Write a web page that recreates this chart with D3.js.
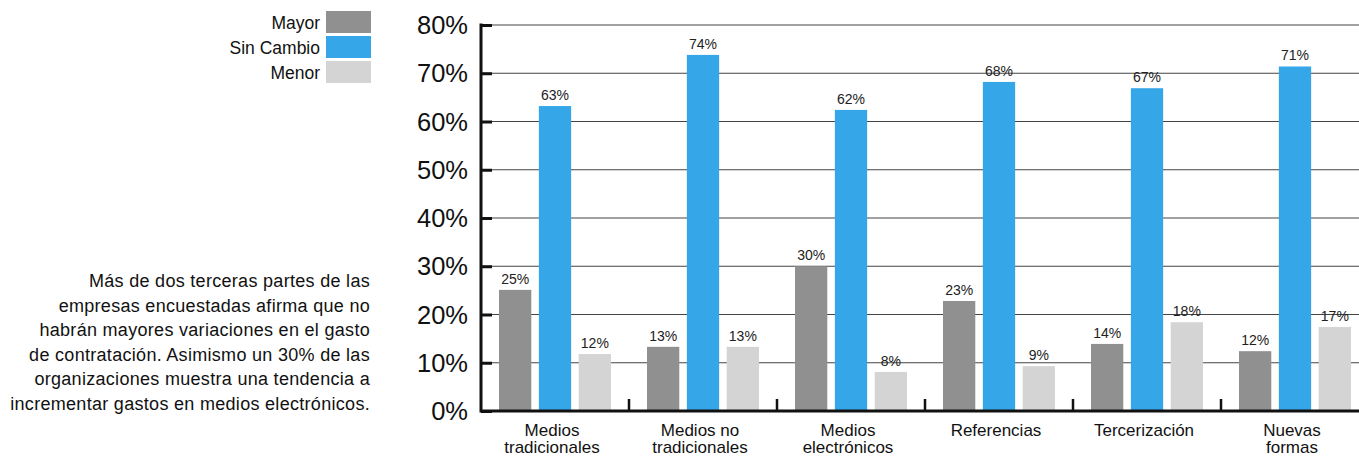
<!DOCTYPE html>
<html><head><meta charset="utf-8">
<script src="https://cdn.jsdelivr.net/npm/d3@7/dist/d3.min.js"></script>
<style>body{margin:0;background:#fff;}svg{display:block;}</style>
</head><body>
<svg id="c" width="1359" height="458"></svg>
<script>
const categories = [["Medios","tradicionales"],["Medios no","tradicionales"],["Medios","electrónicos"],["Referencias"],["Tercerización"],["Nuevas","formas"]];
const seriesNames = ["Mayor","Sin Cambio","Menor"];
const seriesColors = ["#909090","#35a6e8","#d4d4d4"];
const mayor = [25.1,13.3,30.0,22.8,13.9,12.4];
const sinCambio = [63.2,73.8,62.4,68.2,66.9,71.4];
const menor = [11.8,13.3,8.1,9.3,18.4,17.4];
const yTicks = [0,10,20,30,40,50,60,70,80];
const note = ["Más de dos terceras partes de las","empresas encuestadas afirma que no","habrán mayores variaciones en el gasto","de contratación. Asimismo un 30% de las","organizaciones muestra una tendencia a","incrementar gastos en medios electrónicos."];

const series = [mayor, sinCambio, menor];
const svg = d3.select("#c");
const font = "'Liberation Sans', Arial, sans-serif";
const x0 = 481, y0 = 411, bandW = 148;
const x = d3.scaleBand().domain(d3.range(categories.length)).range([x0, x0 + bandW*categories.length]).paddingInner(0).paddingOuter(0);
const y = d3.scaleLinear().domain([0,80]).range([y0, 25]);
const xs = d3.scaleBand().domain(d3.range(3)).range([18, bandW-18]).paddingInner(0.19).paddingOuter(0);

// gridlines
svg.append("g").selectAll("line").data(yTicks.filter(d=>d>0)).join("line")
  .attr("x1", x0).attr("x2", 1359).attr("y1", d=>y(d)).attr("y2", d=>y(d))
  .attr("stroke", "#444").attr("stroke-width", 1.2);

// bars
const g = svg.append("g");
series.forEach((s, si) => {
  g.selectAll(null).data(s).join("rect")
    .attr("x", (d,i)=>x(i)+xs(si)).attr("width", xs.bandwidth())
    .attr("y", d=>y(d)).attr("height", d=>y0-y(d))
    .attr("fill", seriesColors[si]);
  g.selectAll(null).data(s).join("text")
    .attr("x", (d,i)=>x(i)+xs(si)+xs.bandwidth()/2).attr("y", d=>y(d)-6)
    .attr("text-anchor","middle").attr("font-family", font).attr("font-size", 14).attr("fill","#222")
    .text(d=>Math.round(d)+"%");
});

// y axis
const yAxis = d3.axisRight(y).tickValues(yTicks).tickSize(11).tickFormat("");
const ya = svg.append("g").attr("transform", `translate(${x0},0)`).call(yAxis);
ya.select(".domain").remove();
ya.selectAll(".tick line").attr("stroke","#111").attr("stroke-width",3);
svg.append("line").attr("x1",x0).attr("x2",x0).attr("y1",y(80)-1.5).attr("y2",y0+1.5).attr("stroke","#111").attr("stroke-width",3);
svg.append("g").selectAll("text").data(yTicks).join("text")
  .attr("x", 468).attr("y", d=>y(d)+9).attr("text-anchor","end")
  .attr("font-family", font).attr("font-size", 25.5).attr("fill","#111")
  .text(d=>d+"%");

// x axis
svg.append("line").attr("x1",x0).attr("x2",1359).attr("y1",y0).attr("y2",y0).attr("stroke","#111").attr("stroke-width",3);
svg.append("g").selectAll("line").data(d3.range(1,categories.length)).join("line")
  .attr("x1", i=>x(i)).attr("x2", i=>x(i)).attr("y1", y0-12).attr("y2", y0)
  .attr("stroke","#111").attr("stroke-width",2.5);
const cl = svg.append("g").selectAll("text").data(categories).join("text")
  .attr("x", (d,i)=>x(i)+bandW/2-3).attr("y", 435.5).attr("text-anchor","middle")
  .attr("font-family", font).attr("font-size", 17).attr("fill","#111");
cl.selectAll("tspan").data(d=>d).join("tspan")
  .attr("x", function(){return d3.select(this.parentNode).attr("x");})
  .attr("dy", (d,i)=>i? 17.5:0).text(d=>d);

// legend
const lg = svg.append("g");
seriesNames.forEach((n,i)=>{
  lg.append("rect").attr("x",326).attr("y",11+i*25).attr("width",45).attr("height",22).attr("fill",seriesColors[i]);
  lg.append("text").attr("x",320).attr("y",28.5+i*25).attr("text-anchor","end")
    .attr("font-family",font).attr("font-size",17.5).attr("fill","#111").text(n);
});

// note
svg.append("g").selectAll("text").data(note).join("text")
  .attr("x", 370).attr("y", (d,i)=>287+i*24.5).attr("text-anchor","end")
  .attr("font-family", font).attr("font-size", 18).attr("letter-spacing", 0.3).attr("fill","#111").text(d=>d);
</script>
</body></html>
